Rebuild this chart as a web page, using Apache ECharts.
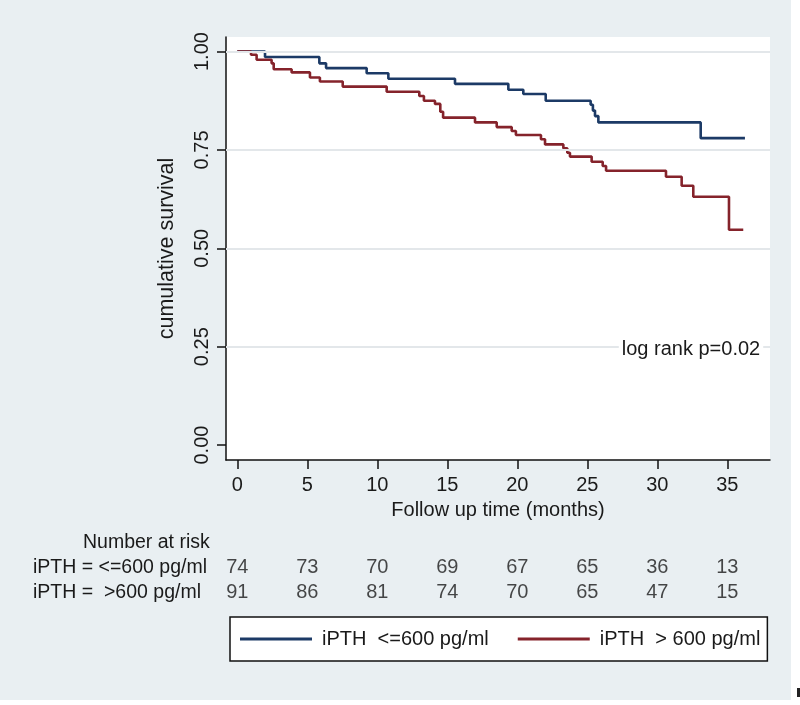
<!DOCTYPE html>
<html>
<head>
<meta charset="utf-8">
<script src="https://cdn.jsdelivr.net/npm/echarts@6/dist/echarts.min.js"></script>
<style>
html,body{margin:0;padding:0;background:#ffffff;}
#chart{width:800px;height:705px;}
</style>
</head>
<body>
<div id="chart"></div>
<script>
// ---- data ----
const seriesNames = ['iPTH  <=600 pg/ml', 'iPTH  > 600 pg/ml'];
const timesLow = [0, 1.98, 5.86, 6.34, 9.24, 10.79, 15.55, 19.36, 20.43, 22.03, 25.24, 25.4, 25.55, 25.79, 33.1, 36.26];
const survLow  = [1.0, 0.986, 0.970, 0.958, 0.945, 0.931, 0.918, 0.903, 0.892, 0.875, 0.865, 0.850, 0.836, 0.820, 0.780, 0.780];
const timesHigh = [0, 0.98, 1.38, 2.45, 2.6, 3.88, 5.19, 5.9, 7.53, 10.67, 13.0, 13.33, 14.12, 14.5, 14.7, 16.98, 18.53, 19.6, 19.9, 21.69, 21.98, 23.29, 23.57, 23.76, 25.31, 26.1, 26.34, 30.62, 31.74, 32.57, 35.12, 36.14];
const survHigh  = [1.0, 0.992, 0.979, 0.970, 0.955, 0.947, 0.934, 0.924, 0.911, 0.898, 0.887, 0.875, 0.867, 0.847, 0.832, 0.820, 0.808, 0.798, 0.788, 0.777, 0.764, 0.754, 0.743, 0.733, 0.720, 0.709, 0.697, 0.682, 0.659, 0.631, 0.547, 0.547];
const xTicks = [0, 5, 10, 15, 20, 25, 30, 35];
const yTicks = [0, 0.25, 0.5, 0.75, 1.0];
const yGridValues = [0.25, 0.5, 0.75, 1.0];
const riskTimes = [0, 5, 10, 15, 20, 25, 30, 35];
const riskLow  = [74, 73, 70, 69, 67, 65, 36, 13];
const riskHigh = [91, 86, 81, 74, 70, 65, 47, 15];
const riskRowLabels = ['iPTH = <=600 pg/ml', 'iPTH =  >600 pg/ml'];
const riskTitle = 'Number at risk';
const xTitle = 'Follow up time (months)';
const yTitle = 'cumulative survival';
const annotation = 'log rank p=0.02';

// ---- styles ----
const FONT = '"Liberation Sans", Arial, sans-serif';
const TXT = '#1a1a1a';
const BLUE = '#1c3a66';
const RED = '#85232b';
const BG = '#e9eff2';

const pairs = (ts, vs) => ts.map((t, i) => [t, vs[i]]);
const riskData = [];
riskTimes.forEach((t, i) => {
  riskData.push([t, 0, riskLow[i]]);
  riskData.push([t, 1, riskHigh[i]]);
});

const chart = echarts.init(document.getElementById('chart'), null, {renderer: 'canvas'});
const option = {
  animation: false,
  backgroundColor: '#ffffff',
  textStyle: {fontFamily: FONT},
  graphic: [
    {type: 'rect', z: -10, silent: true, shape: {x: 0, y: 0, width: 791, height: 700}, style: {fill: BG}},
    {type: 'rect', z: -10, silent: true, shape: {x: 797, y: 688, width: 3, height: 9}, style: {fill: '#222'}},
    {type: 'text', x: 83, y: 543, style: {text: riskTitle, font: '19.5px ' + FONT, fill: TXT, textVerticalAlign: 'middle'}},
    {type: 'text', x: 33, y: 567.5, style: {text: riskRowLabels[0], font: '19.5px ' + FONT, fill: TXT, textVerticalAlign: 'middle'}},
    {type: 'text', x: 33, y: 592.5, style: {text: riskRowLabels[1], font: '19.5px ' + FONT, fill: TXT, textVerticalAlign: 'middle'}},
    {type: 'text', x: 691, y: 349, z: 100, style: {text: annotation, font: '20px ' + FONT, fill: TXT, textAlign: 'center', textVerticalAlign: 'middle', backgroundColor: '#ffffff', padding: [3, 3]}}
  ],
  grid: [
    {left: 226, right: 30, top: 37, bottom: 245, show: true, backgroundColor: '#ffffff', borderWidth: 0},
    {left: 226, right: 30, top: 555, bottom: 100, show: false}
  ],
  legend: {
    left: 230, top: 617,
    data: seriesNames,
    icon: 'rect',
    itemWidth: 72, itemHeight: 3,
    itemGap: 29,
    padding: [12, 7, 12, 10],
    borderColor: '#111', borderWidth: 1.5, backgroundColor: '#ffffff',
    borderRadius: 0,
    textStyle: {fontSize: 20, color: TXT, fontFamily: FONT, padding: [0, 0, 0, 5]},
    selectedMode: false
  },
  xAxis: [
    {
      gridIndex: 0, type: 'value', min: -0.807, max: 38.05,
      name: xTitle, nameLocation: 'middle', nameGap: 40,
      nameTextStyle: {fontSize: 20, color: TXT, fontFamily: FONT},
      axisLine: {show: true, onZero: false, lineStyle: {color: '#111', width: 1.5}},
      axisTick: {show: true, length: 9, lineStyle: {color: '#111', width: 1.5}, customValues: xTicks},
      axisLabel: {fontSize: 20, color: TXT, margin: 15, customValues: xTicks, formatter: v => String(v)},
      splitLine: {show: false}
    },
    {
      gridIndex: 1, type: 'value', min: -0.807, max: 38.05, show: false
    }
  ],
  yAxis: [
    {
      gridIndex: 0, type: 'value', min: -0.038, max: 1.037,
      name: yTitle, nameLocation: 'middle', nameGap: 48,
      nameTextStyle: {fontSize: 21.5, color: TXT, fontFamily: FONT},
      axisLine: {show: true, onZero: false, lineStyle: {color: '#111', width: 1.5}},
      axisTick: {show: true, length: 9, lineStyle: {color: '#111', width: 1.5}, customValues: yTicks},
      axisLabel: {fontSize: 20, color: TXT, rotate: 90, margin: 14, customValues: yTicks, formatter: v => v.toFixed(2)},
      splitLine: {show: false}
    },
    {
      gridIndex: 1, type: 'category', data: ['low', 'high'], inverse: true, show: false
    }
  ],
  series: [
    {
      name: 'grid', type: 'line', xAxisIndex: 0, yAxisIndex: 0, data: [], z: 1, silent: true,
      markLine: {
        silent: true, symbol: 'none', label: {show: false},
        lineStyle: {color: '#e3e7ea', width: 2, type: 'solid'},
        data: yGridValues.map(v => ({yAxis: v}))
      }
    },
    {
      name: seriesNames[0], type: 'line', step: 'end', xAxisIndex: 0, yAxisIndex: 0,
      data: pairs(timesLow, survLow), symbol: 'none', z: 3,
      lineStyle: {color: BLUE, width: 2.6}, itemStyle: {color: BLUE}
    },
    {
      name: seriesNames[1], type: 'line', step: 'end', xAxisIndex: 0, yAxisIndex: 0,
      data: pairs(timesHigh, survHigh), symbol: 'none', z: 3,
      lineStyle: {color: RED, width: 2.6}, itemStyle: {color: RED}
    },
    {
      name: 'risk', type: 'scatter', xAxisIndex: 1, yAxisIndex: 1,
      data: riskData, symbolSize: 0, silent: true,
      label: {show: true, position: 'inside', fontSize: 20, color: TXT, fontFamily: FONT,
        formatter: p => String(p.value[2])}
    }
  ]
};
chart.setOption(option);
</script>
</body>
</html>
